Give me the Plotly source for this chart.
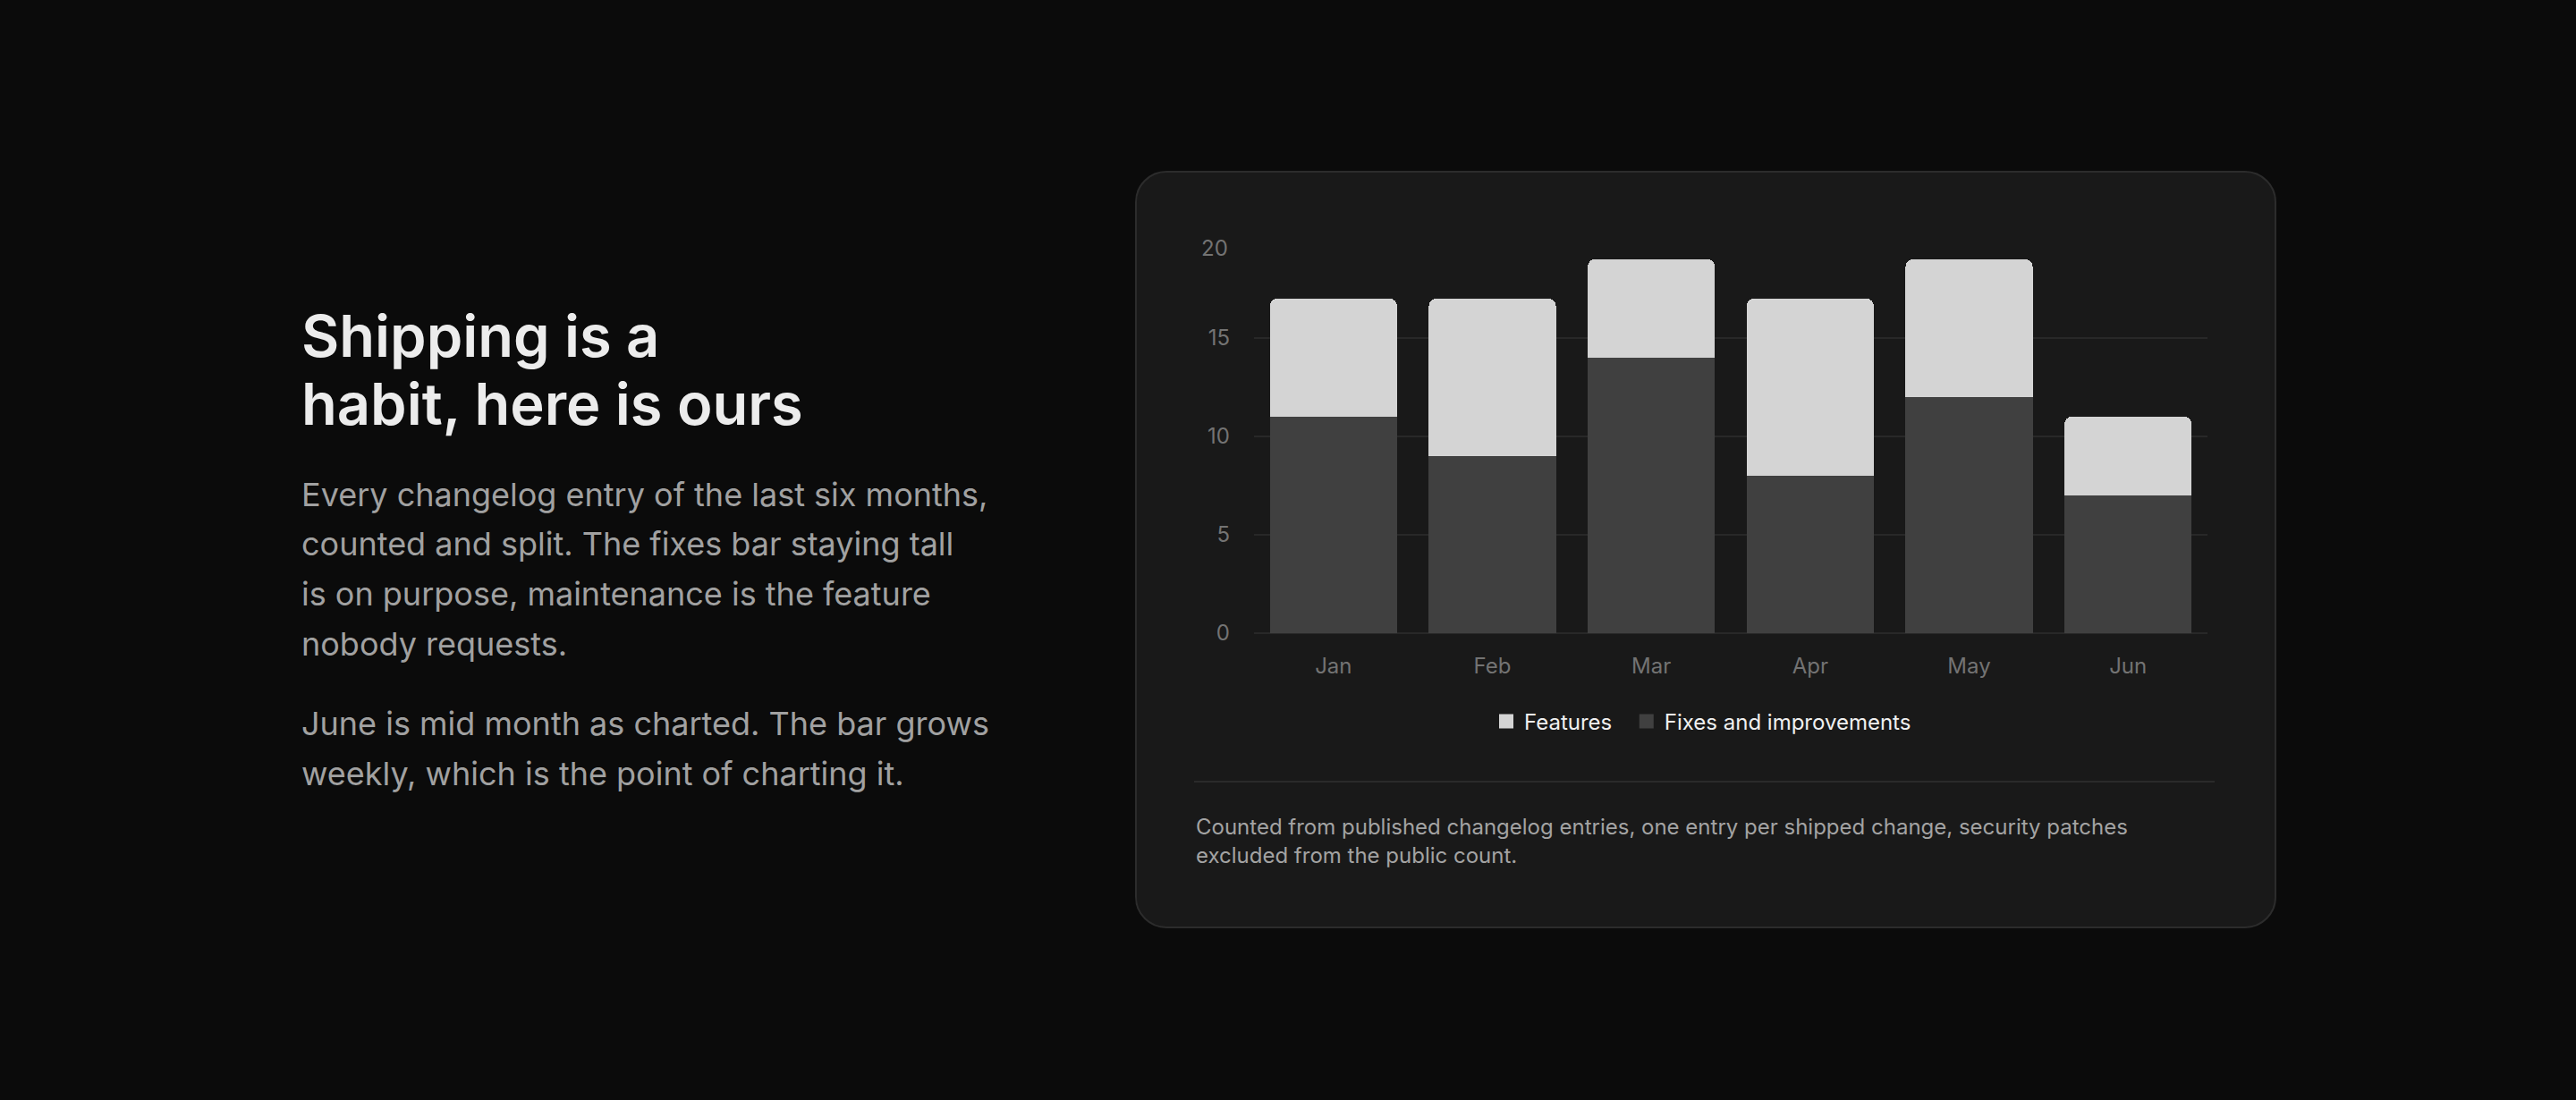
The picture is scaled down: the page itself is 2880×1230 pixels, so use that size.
"""Changelog entries per month, stacked features vs fixes."""
import plotly.graph_objects as go

W, H = 2880, 1230

# data
months = ["Jan", "Feb", "Mar", "Apr", "May", "Jun"]
features = [6, 8, 5, 9, 7, 4]
fixes = [11, 9, 14, 8, 12, 7]
y_ticks = [0, 5, 10, 15, 20]

headline = ["Shipping is a", "habit, here is ours"]
body_lines = [
    "Every changelog entry of the last six months,",
    "counted and split. The fixes bar staying tall",
    "is on purpose, maintenance is the feature",
    "nobody requests.",
]
body_lines_2 = [
    "June is mid month as charted. The bar grows",
    "weekly, which is the point of charting it.",
]
footnote = [
    "Counted from published changelog entries, one entry per shipped change, security patches",
    "excluded from the public count.",
]

FONT = "Inter, 'Noto Sans', sans-serif"
FEAT_COLOR = "#d4d4d4"
FIX_COLOR = "#404040"
TICK_COLOR = "#737373"


def px(x):
    return x / W


def py(y):
    return 1 - y / H


def rounded_rect(x0, y0, x1, y1, r):
    # path in paper units, corners approximated with cubic curves
    rx, ry = r / W, r / H
    k = 0.5523
    X0, X1 = px(x0), px(x1)
    Y0, Y1 = py(y0), py(y1)  # Y0 is the top
    return (
        f"M{X0 + rx},{Y0} L{X1 - rx},{Y0} "
        f"C{X1 - rx + k * rx},{Y0} {X1},{Y0 - ry + k * ry} {X1},{Y0 - ry} "
        f"L{X1},{Y1 + ry} "
        f"C{X1},{Y1 + ry - k * ry} {X1 - rx + k * rx},{Y1} {X1 - rx},{Y1} "
        f"L{X0 + rx},{Y1} "
        f"C{X0 + rx - k * rx},{Y1} {X0},{Y1 + ry - k * ry} {X0},{Y1 + ry} "
        f"L{X0},{Y0 - ry} "
        f"C{X0},{Y0 - ry + k * ry} {X0 + rx - k * rx},{Y0} {X0 + rx},{Y0} Z"
    )


fig = go.Figure()
fig.add_trace(go.Bar(x=months, y=fixes, name="Fixes and improvements",
                     marker=dict(color=FIX_COLOR, line=dict(width=0)),
                     showlegend=False, hoverinfo="skip"))
fig.add_trace(go.Bar(x=months, y=features, name="Features",
                     marker=dict(color=FEAT_COLOR, line=dict(width=0)),
                     showlegend=False, hoverinfo="skip"))
# legend entries with bigger square keys (trailing nbsp widens the gap a bit)
fig.add_trace(go.Scatter(x=[None], y=[None], mode="markers", name="Features\u00a0\u00a0",
                         marker=dict(symbol="square", size=16, color=FEAT_COLOR)))
fig.add_trace(go.Scatter(x=[None], y=[None], mode="markers", name="Fixes and improvements",
                         marker=dict(symbol="square", size=16, color=FIX_COLOR)))

# card behind the chart
shapes = [
    dict(type="path", xref="paper", yref="paper", layer="below",
         path=rounded_rect(1270, 192, 2544, 1037, 34),
         fillcolor="#191919", line=dict(color="#2c2c2c", width=2)),
    dict(type="line", xref="paper", yref="paper", layer="below",
         x0=px(1335), x1=px(2476), y0=py(874), y1=py(874),
         line=dict(color="#2a2a2a", width=2)),
]

annotations = []
for i, t in enumerate(headline):
    annotations.append(dict(text=t, x=px(335), y=py(375 + i * 77),
                            font=dict(family=FONT, size=65, color="#ececec", weight=600)))
for i, t in enumerate(body_lines):
    annotations.append(dict(text=t, x=px(335), y=py(553 + i * 55.5),
                            font=dict(family=FONT, size=36, color="#a1a1a1")))
for i, t in enumerate(body_lines_2):
    annotations.append(dict(text=t, x=px(335), y=py(809 + i * 55.5),
                            font=dict(family=FONT, size=36, color="#a1a1a1")))
for i, t in enumerate(footnote):
    annotations.append(dict(text=t, x=px(1335), y=py(924 + i * 32),
                            font=dict(family=FONT, size=24, color="#a3a3a3")))
for a in annotations:
    a.update(xref="paper", yref="paper", xanchor="left", yanchor="middle",
             showarrow=False, align="left")

# the top tick label sits just inside the plot, below its gridline
annotations.append(dict(text=str(y_ticks[-1]), xref="paper", yref="y",
                        x=px(1375), y=y_ticks[-1], yshift=-9,
                        xanchor="right", yanchor="middle", showarrow=False,
                        font=dict(family=FONT, size=24, color=TICK_COLOR)))

fig.update_layout(
    width=W, height=H,
    margin=dict(l=0, r=0, t=0, b=0, pad=0, autoexpand=False),
    paper_bgcolor="#0b0b0b",
    plot_bgcolor="rgba(0,0,0,0)",
    font=dict(family=FONT),
    barmode="stack",
    bargap=0.2,
    barcornerradius=8,
    shapes=shapes,
    annotations=annotations,
    showlegend=True,
    legend=dict(orientation="h", x=px(1664), y=py(807), xanchor="left", yanchor="middle",
                traceorder="normal", font=dict(size=24, color="#f0f0f0"), itemwidth=30,
                bgcolor="rgba(0,0,0,0)", itemclick=False, itemdoubleclick=False),
    xaxis=dict(domain=[px(1402), px(2468)], showgrid=False, zeroline=False, showline=False,
               ticks="", ticklabelstandoff=20,
               tickfont=dict(size=24, color=TICK_COLOR)),
    yaxis=dict(domain=[py(708), py(268)], range=[0, 20],
               tickvals=y_ticks, ticktext=[str(v) for v in y_ticks[:-1]] + [""],
               showgrid=True, gridcolor="#282828", gridwidth=2,
               zeroline=True, zerolinecolor="#282828", zerolinewidth=2,
               showline=False, ticks="", ticklabelstandoff=26,
               tickfont=dict(size=24, color=TICK_COLOR)),
)

fig.write_html(
    "out.html",
    config={"displayModeBar": False},
    post_script="document.body.style.margin='0';document.body.style.background='#0b0b0b';",
)
